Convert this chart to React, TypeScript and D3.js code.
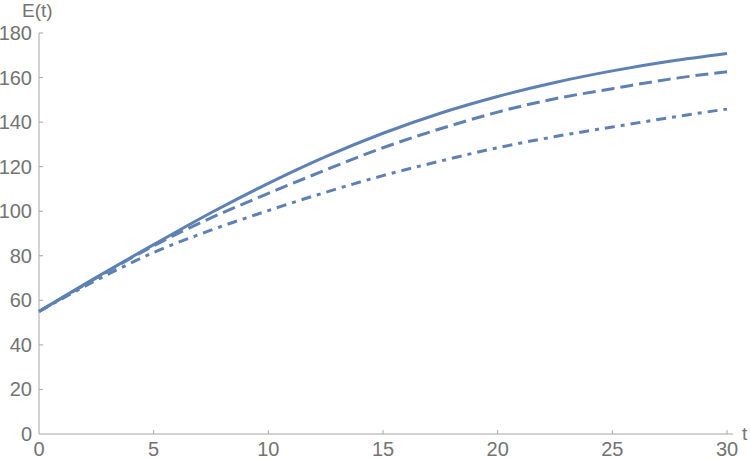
import React, { useEffect, useRef } from 'react';
import * as d3 from 'd3';

// time points (t)
const tValues = [0, 2.5, 5, 7.5, 10, 12.5, 15, 17.5, 20, 22.5, 25, 27.5, 30];
// E(t) for the three cases
const solidSeries = [55, 70.3, 85, 99.3, 112.5, 124.5, 135, 144, 151.5, 157.8, 163, 167.3, 170.8];
const dashedSeries = [55, 70, 84.5, 97, 108, 118.5, 128.5, 137, 144.5, 150.5, 155, 159.3, 162.6];
const dashDotSeries = [55, 69, 81.5, 91.5, 100.3, 108.5, 116, 122.5, 128.5, 133.5, 137.8, 142, 145.9];

const xTicks = [0, 5, 10, 15, 20, 25, 30];
const yTicks = [0, 20, 40, 60, 80, 100, 120, 140, 160, 180];

const App = () => {
  const svgRef = useRef<SVGSVGElement | null>(null);

  useEffect(() => {
    const width = 750;
    const height = 460;
    const svg = d3.select(svgRef.current);
    svg.selectAll('*').remove();

    const x = d3.scaleLinear().domain([0, 30]).range([39, 727]);
    const y = d3.scaleLinear().domain([0, 180]).range([434, 33]);

    const axisColor = '#a6a6a6';
    const labelColor = '#737373';
    const font = '"Liberation Sans", Arial, sans-serif';

    // axes lines
    svg.append('line')
      .attr('x1', x(0)).attr('x2', x(30) + 6)
      .attr('y1', y(0)).attr('y2', y(0))
      .attr('stroke', axisColor).attr('stroke-width', 1);
    svg.append('line')
      .attr('x1', x(0)).attr('x2', x(0))
      .attr('y1', y(0)).attr('y2', y(180))
      .attr('stroke', axisColor).attr('stroke-width', 1);

    // x ticks
    const xg = svg.append('g');
    xTicks.forEach(t => {
      if (t > 0) {
        xg.append('line')
          .attr('x1', x(t)).attr('x2', x(t))
          .attr('y1', y(0)).attr('y2', y(0) - 4)
          .attr('stroke', axisColor);
      }
      xg.append('text')
        .attr('x', x(t)).attr('y', 456)
        .attr('text-anchor', 'middle')
        .attr('font-family', font).attr('font-size', 20)
        .attr('fill', labelColor)
        .text(t);
    });

    // y ticks
    const yg = svg.append('g');
    yTicks.forEach(v => {
      if (v > 0) {
        yg.append('line')
          .attr('x1', x(0)).attr('x2', x(0) + 4)
          .attr('y1', y(v)).attr('y2', y(v))
          .attr('stroke', axisColor);
      }
      yg.append('text')
        .attr('x', 32).attr('y', y(v) + 7)
        .attr('text-anchor', 'end')
        .attr('font-family', font).attr('font-size', 20)
        .attr('fill', labelColor)
        .text(v);
    });

    // axis labels
    svg.append('text')
      .attr('x', 22).attr('y', 17)
      .attr('font-family', font).attr('font-size', 19)
      .attr('fill', labelColor)
      .text('E(t)');
    svg.append('text')
      .attr('x', 742).attr('y', 440)
      .attr('font-family', font).attr('font-size', 19)
      .attr('fill', labelColor)
      .text('t');

    const line = d3.line<number>()
      .x((d, i) => x(tValues[i]))
      .y(d => y(d))
      .curve(d3.curveMonotoneX);

    const series = [
      { data: dashDotSeries, dash: '10,6,4,6' },
      { data: dashedSeries, dash: '13,6' },
      { data: solidSeries, dash: null },
    ];

    series.forEach(s => {
      svg.append('path')
        .datum(s.data)
        .attr('d', line)
        .attr('fill', 'none')
        .attr('stroke', '#5e81b5')
        .attr('stroke-width', 3)
        .attr('stroke-dasharray', s.dash);
    });

    svg.attr('width', width).attr('height', height);
  }, []);

  return (
    <svg ref={svgRef} width={750} height={460}
      style={{ position: 'absolute', left: 0, top: 0, background: '#fff' }} />
  );
};

export default App;
